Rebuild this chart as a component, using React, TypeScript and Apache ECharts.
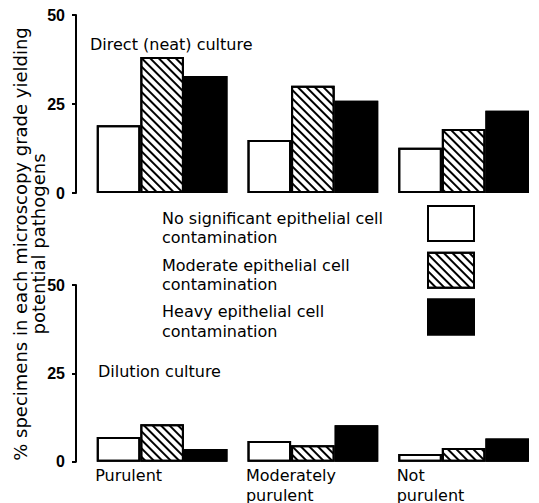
import React, { useEffect, useRef } from 'react';
import * as echarts from 'echarts';

const categories = ['Purulent', 'Moderately\npurulent', 'Not\npurulent'];
const seriesNames = [
  'No significant epithelial cell\ncontamination',
  'Moderate epithelial cell\ncontamination',
  'Heavy epithelial cell\ncontamination',
];
const directNone = [19.0, 14.9, 12.7];
const directModerate = [38.2, 30.1, 18.0];
const directHeavy = [32.9, 25.9, 23.1];
const dilutionNone = [7.0, 5.9, 2.2];
const dilutionModerate = [10.6, 4.7, 3.9];
const dilutionHeavy = [3.6, 10.3, 6.6];
const yMin = 0;
const yMax = 50;
const yInterval = 25;
const panelTitles = ['Direct (neat) culture', 'Dilution culture'];
const yTitle = '% specimens in each microscopy grade yielding\npotential pathogens';

const FONT = '"DejaVu Sans", sans-serif';

const toRich = (s: string) =>
  s
    .split('\n')
    .map((l) => `{a|${l}}`)
    .join('\n');

const hatchDecal = {
  symbol: 'rect',
  symbolSize: 1,
  color: '#000',
  dashArrayX: [1, 0],
  dashArrayY: [1.4, 3.2],
  rotation: Math.PI / 4,
};
const noDecal = {
  symbol: 'rect',
  symbolSize: 1,
  color: 'rgba(0,0,0,0)',
  dashArrayX: [1, 0],
  dashArrayY: [1, 0],
};

const styles = [
  { color: '#fff', borderColor: '#000', borderWidth: 2, decal: noDecal },
  { color: '#fff', borderColor: '#000', borderWidth: 2, decal: hatchDecal },
  { color: '#000', borderColor: '#000', borderWidth: 2, decal: noDecal },
];

export default function App() {
  const ref = useRef<HTMLDivElement>(null);
  useEffect(() => {
    if (!ref.current) return;
    const chart = echarts.init(ref.current, undefined, { renderer: 'svg' });
    const gridGeom = { left: 86.75, width: 463.5, height: 178 };
    const yAxisBase = (gridIndex: number) => ({
      type: 'value',
      gridIndex,
      min: yMin,
      max: yMax,
      interval: yInterval,
      offset: 10.75,
      axisLine: { show: true, lineStyle: { color: '#000', width: 2 } },
      axisTick: { show: true, length: 4, lineStyle: { color: '#000', width: 2 } },
      axisLabel: {
        color: '#000',
        fontFamily: '"Liberation Sans", sans-serif',
        fontWeight: 'bold',
        fontSize: 16,
        margin: 11,
      },
      splitLine: { show: false },
    });
    const xAxisBase = (gridIndex: number, showLabels: boolean) => ({
      type: 'category',
      gridIndex,
      data: categories,
      axisLine: { show: false },
      axisTick: { show: false },
      axisLabel: {
        show: showLabels,
        interval: 0,
        width: 134,
        align: 'center',
        margin: 4,
        formatter: (v: string) => toRich(v),
        rich: {
          a: { align: 'left', fontFamily: FONT, fontSize: 16, lineHeight: 19.5, color: '#000' },
        },
      },
    });
    const datasets = [
      [directNone, directModerate, directHeavy],
      [dilutionNone, dilutionModerate, dilutionHeavy],
    ];
    const series: any[] = [];
    datasets.forEach((group, gi) => {
      group.forEach((vals, si) => {
        series.push({
          type: 'bar',
          name: seriesNames[si],
          xAxisIndex: gi,
          yAxisIndex: gi,
          data: vals,
          barGap: '0%',
          barCategoryGap: '13.3%',
          itemStyle: styles[si],
        });
      });
    });
    const titleStyle = { fontFamily: FONT, fontSize: 16, fontWeight: 'normal', color: '#000' };
    chart.setOption({
      animation: false,
      aria: { enabled: true, decal: { show: true } },
      title: [
        { text: panelTitles[0], left: 90, top: 36, padding: 0, textStyle: titleStyle },
        { text: panelTitles[1], left: 98, top: 363, padding: 0, textStyle: titleStyle },
      ],
      grid: [
        { ...gridGeom, top: 15 },
        { ...gridGeom, top: 285 },
      ],
      xAxis: [xAxisBase(0, false), xAxisBase(1, true)],
      yAxis: [yAxisBase(0), yAxisBase(1)],
      legend: {
        data: seriesNames,
        orient: 'vertical',
        align: 'right',
        left: 162,
        top: 205,
        padding: 0,
        itemWidth: 46,
        itemHeight: 35,
        itemGap: 6,
        icon: 'rect',
        selectedMode: false,
        itemStyle: { borderColor: '#000', borderWidth: 2 },
        formatter: (name: string) => toRich(name),
        textStyle: {
          width: 261,
          height: 30,
          rich: {
            a: { align: 'left', fontFamily: FONT, fontSize: 16, lineHeight: 19.5, color: '#000' },
          },
        },
      },
      graphic: [
        {
          type: 'text',
          x: 29,
          y: 244,
          rotation: Math.PI / 2,
          style: {
            text: yTitle,
            font: `18px ${FONT}`,
            align: 'center',
            verticalAlign: 'middle',
            lineHeight: 18,
            fill: '#000',
          },
        },
      ],
      series,
    });
    return () => chart.dispose();
  }, []);
  return (
    <div
      ref={ref}
      style={{ position: 'fixed', left: 0, top: 0, width: 539, height: 503, background: '#fff' }}
    />
  );
}
